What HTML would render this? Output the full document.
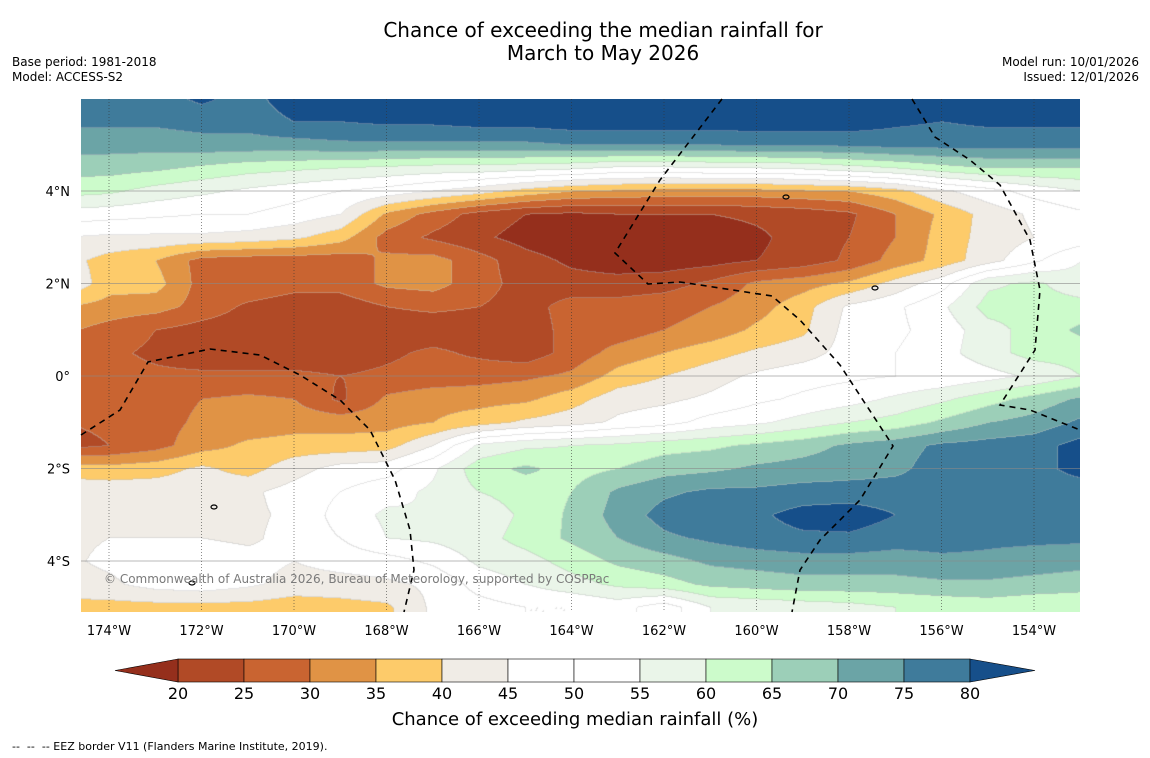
<!DOCTYPE html>
<html><head><meta charset="utf-8">
<style>
body{margin:0;background:#fff;font-family:"DejaVu Sans","Liberation Sans",sans-serif;}
#wrap{position:relative;width:1150px;height:758px;overflow:hidden;background:#fff;}
.t{position:absolute;white-space:nowrap;color:#000;}
</style></head>
<body>
<div id="wrap">
<div class="t" style="left:0;width:1206px;text-align:center;top:19px;font-size:20px;line-height:23px;">Chance of exceeding the median rainfall for<br>March to May 2026</div>
<div class="t" style="left:12px;top:55px;font-size:12px;line-height:15px;">Base period: 1981-2018<br>Model: ACCESS-S2</div>
<div class="t" style="right:11px;top:55px;font-size:12px;line-height:15px;text-align:right;">Model run: 10/01/2026<br>Issued: 12/01/2026</div>
<canvas id="map" width="999" height="513" style="position:absolute;left:81px;top:99px;"></canvas>
<svg id="ov" width="1150" height="758" style="position:absolute;left:0;top:0;"></svg>
<div class="t" style="left:104px;top:572px;font-size:12px;color:#7a7a7a;">© Commonwealth of Australia 2026, Bureau of Meteorology, supported by COSPPac</div>
<div class="t" style="left:0;width:1150px;text-align:center;top:709px;font-size:18px;">Chance of exceeding median rainfall (%)</div>
<div class="t" style="left:12px;top:740px;font-size:11px;">--&nbsp; --&nbsp; -- EEZ border V11 (Flanders Marine Institute, 2019).</div>
</div>
<script>
const lons=[-175,-174,-173,-172,-171,-170,-169,-168,-167,-166,-165,-164,-163,-162,-161,-160,-159,-158,-157,-156,-155,-154,-153];
const lats=[6,5.5,5,4.5,4,3.5,3,2.5,2,1.5,1,0.5,0,-0.5,-1,-1.5,-2,-2.5,-3,-3.5,-4,-4.5,-5,-5.5];
const r60=[77,77,78,81,78,83,84,84,84,84,84,84,84,84,84,84,84,84,84,84,84,84,84];
const r55=[76,76,76,77,77,80,80,81,81,82,82,83,83,83,83,83,83,83,81,80,81,81,81];
const r50=[72,72,72,73,73,73,74,74,74,74,74,75,75,75,75,76,76,76,77,77,77,77,77];
const r45=[67,67,66,64,62,61,60,59,58,58,57,56,54,54,55,55,56,58,60,63,65,65,65];
const r40=[62,61,58,56,54,52,50,48,45,42,38,35,34,33,33,33,34,35,38,44,48,52,55];
const r35=[53,52,51,50,50,48,45,34,28,23,20,19,20,20,20,21,22,24,30,36,42,46,49];
const r30=[45,44,44,44,43,41,37,28,24,21,18,16,16,16,17,19,22,25,30,37,42,45,47];
const r25=[42,38,35,28,27,27,27,31,32,27,22,19,17,17,18,20,22,26,32,37,43,49,55];
const r20=[45,37,37,28,29,27,27,31,32,27,23,22,22,23,26,31,33,36,42,48,59,61,57];
const r15=[35,33,32,28,24,22,22,25,26,25,23,27,27,28,30,33,38,46,49,54,62,62,62];
const r10=[31,28,25,23,22,21,21,22,22,22,22,27,27,30,32,36,39,47,49,52,58,62,66];
const r05=[28,26,24,22,22,22,22,24,26,24,22,27,32,35,38,41,43,47,50,53,58,62,62];
const r00=[28,27,26,26,26,26,25,26,27,28,29,31,37,40,43,46,48,49,50,51,53,56,60];
const rm05=[26,27,28,30,31,30,24,31,33,33,34,38,43,44,46,49,51,53,56,59,63,67,71];
const rm10=[25,26,28,31,32,33,33,33,35,38,41,43,46,48,52,54,57,60,62,66,70,72,76];
const rm15=[23,25,28,33,36,37,37,38,45,56,59,60,61,63,64,66,68,71,73,76,77,78,82];
const rm20=[38,37,38,41,38,43,47,48,54,63,66,63,65,68,69,71,72,73,74,77,78,78,82];
const rm25=[43,43,43,43,44,47,50,53,56,60,62,65,71,74,76,76,77,77,77,77,78,77,77];
const rm30=[43,43,43,43,44,46,52,56,55,57,61,66,72,77,80,79,82,83,80,77,77,77,77];
const rm35=[44,45,45,45,44,47,50,55,56,58,62,66,70,74,76,78,79,79,77,77,76,76,76];
const rm40=[44,46,48,48,47,45,47,48,51,56,58,62,66,68,71,72,73,73,73,74,74,73,72];
const rm45=[43,44,47,48,46,43,43,44,46,52,55,58,61,63,66,67,68,68,68,69,69,68,67];
const rm50=[38,38,38,38,38,37,38,39,46,48,50,50,52,47,55,56,57,58,60,61,62,61,61];
const rm55=[38,38,38,38,38,37,38,39,46,48,50,50,52,47,55,56,57,58,60,61,62,61,61];
const grid=[r60,r55,r50,r45,r40,r35,r30,r25,r20,r15,r10,r05,r00,rm05,rm10,rm15,rm20,rm25,rm30,rm35,rm40,rm45,rm50,rm55];
const levels=[20,25,30,35,40,45,50,55,60,65,70,75,80];
const colors=["#952f1c","#b14a26","#c96431","#e09345","#fdcb6a","#f0ece6","#ffffff","#ffffff","#eaf5e9","#ccfbcb","#9ccfb8","#6ba4a6","#3f7b9b","#164f8a"];
const lonTicks=[-174,-172,-170,-168,-166,-164,-162,-160,-158,-156,-154];
const latTicks=[4,2,0,-2,-4];
const latLabels=["4°N","2°N","0°","2°S","4°S"];

const PX=46.25;
function xOf(lon){return 109+(lon+174)*PX;}
function yOf(lat){return 376-lat*PX;}
function lonOf(x){return -174+(x-109)/PX;}
function latOf(y){return (376-y)/PX;}

function val(lon,lat){
  let fi=(lon-lons[0])/(lons[1]-lons[0]); let fj=(lats[0]-lat)/(lats[0]-lats[1]);
  fi=Math.max(0,Math.min(lons.length-1.0001,fi)); fj=Math.max(0,Math.min(lats.length-1.0001,fj));
  const i=Math.floor(fi),j=Math.floor(fj),a=fi-i,b=fj-j;
  return grid[j][i]*(1-a)*(1-b)+grid[j][i+1]*a*(1-b)+grid[j+1][i]*(1-a)*b+grid[j+1][i+1]*a*b;
}
function bin(v){let k=0;while(k<levels.length&&v>=levels[k])k++;return k;}
function hex(c){return [parseInt(c.substr(1,2),16),parseInt(c.substr(3,2),16),parseInt(c.substr(5,2),16)];}
const rgb=colors.map(hex);

const cv=document.getElementById('map');const ctx=cv.getContext('2d');
const W=cv.width,H=cv.height;const img=ctx.createImageData(W,H);
const bins=new Int8Array(W*H);
for(let py=0;py<H;py++){for(let px=0;px<W;px++){bins[py*W+px]=bin(val(lonOf(px+81),latOf(py+99)));}}
for(let py=0;py<H;py++){for(let px=0;px<W;px++){
  const k=bins[py*W+px];let c=rgb[k];let r=c[0],g=c[1],b=c[2];
  const edge=(px+1<W&&bins[py*W+px+1]!==k)||(py+1<H&&bins[(py+1)*W+px]!==k);
  if(edge){r=r*0.6+190*0.4;g=g*0.6+190*0.4;b=b*0.6+190*0.4;}
  const o=(py*W+px)*4;img.data[o]=r;img.data[o+1]=g;img.data[o+2]=b;img.data[o+3]=255;}}
ctx.putImageData(img,0,0);

const NS='http://www.w3.org/2000/svg';const ov=document.getElementById('ov');
const FF='DejaVu Sans, Liberation Sans, sans-serif';
function mk(tag,attrs){const e=document.createElementNS(NS,tag);for(const k in attrs)e.setAttribute(k,attrs[k]);ov.appendChild(e);return e;}
latTicks.forEach((lat,i)=>{
  const l=mk('line',{x1:81,x2:1080,y1:yOf(lat),y2:yOf(lat),stroke:'#8a8a8a','stroke-width':0.8,'stroke-opacity':0.8});
  
  
  const t=mk('text',{x:70,y:yOf(lat)+5,'text-anchor':'end','font-size':13,'font-family':FF});
  t.textContent=latLabels[i];
  
  
});
lonTicks.forEach(lon=>{
  const l=mk('line',{x1:xOf(lon),x2:xOf(lon),y1:99,y2:612,stroke:'#333','stroke-width':0.7,'stroke-dasharray':'1,2','stroke-opacity':0.8});
  
  
  const t=mk('text',{x:xOf(lon),y:635,'text-anchor':'middle','font-size':13,'font-family':FF});
  t.textContent=Math.abs(lon)+'°W';
  
  
});
const eez=[
 "81,435 120,410 148,362 210,349 260,355 300,375 340,400 370,430 395,480 410,530 414,570 404,612",
 "722,99 660,180 615,253 648,284 680,282 700,285 772,296 800,320 840,365 893,446 860,500 820,540 800,570 792,612",
 "912,99 935,137 970,160 1000,185 1030,240 1040,290 1035,350 1000,405 1030,410 1080,430"];
eez.forEach(p=>{
  const e=mk('polyline',{points:p,fill:'none',stroke:'#000','stroke-width':1.6,'stroke-dasharray':'6,5'});
  
  
});
[[786,197],[875,288],[214,507],[192,583]].forEach(p=>{
  const e=mk('ellipse',{cx:p[0],cy:p[1],rx:3,ry:2,fill:'none',stroke:'#000','stroke-width':1.2});
  
  
});
const cbX0=178,cbW=66,cbY=659,cbH=23;
for(let k=1;k<levels.length;k++){
  const r=mk('rect',{x:cbX0+(k-1)*cbW,y:cbY,width:cbW,height:cbH,fill:colors[k],stroke:'#000','stroke-width':0.6});
  
  
}
const lt=mk('polygon',{points:`${cbX0},${cbY} 115,${cbY+cbH/2} ${cbX0},${cbY+cbH}`,fill:colors[0],stroke:'#000','stroke-width':0.6});


const xe=cbX0+(levels.length-1)*cbW;
const rt=mk('polygon',{points:`${xe},${cbY} 1035,${cbY+cbH/2} ${xe},${cbY+cbH}`,fill:colors[colors.length-1],stroke:'#000','stroke-width':0.6});


levels.forEach((lv,k)=>{
  const t=mk('text',{x:cbX0+k*cbW,y:699,'text-anchor':'middle','font-size':16,'font-family':FF});
  t.textContent=lv;
  
  
});
</script>
</body></html>
